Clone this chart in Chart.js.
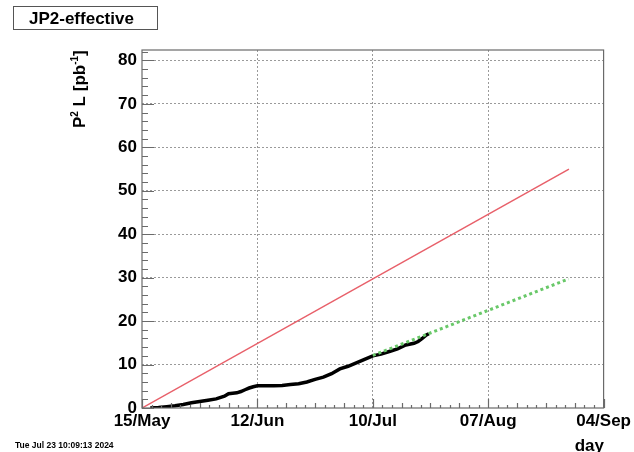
<!DOCTYPE html>
<html><head><meta charset="utf-8">
<script src="https://cdn.jsdelivr.net/npm/chart.js@4/dist/chart.umd.min.js"></script>
<style>html,body{margin:0;padding:0;background:#fff}#wrap{width:634px;height:452px;position:relative}</style>
</head><body><div id="wrap"><canvas id="c" width="634" height="452"></canvas></div>
<script>
// ---- data (x = days since 15 May) ----
const xTickLabels = ['15/May','12/Jun','10/Jul','07/Aug','04/Sep'];
const xTickDays = [0, 28, 56, 84, 112];
const yTickValues = [0, 10, 20, 30, 40, 50, 60, 70, 80];
const measDays = [2,4,6,8,10,12,14,16,18,20,21,22,23,24,25,26,27,28,30,32,34,36,38,40,42,44,46,48,50,52,54,56,58,60,62,64,66,67,68,69,69.6];
const measValues = [0,0.1,0.3,0.5,0.8,1.2,1.5,1.8,2.1,2.7,3.3,3.4,3.5,3.8,4.2,4.6,4.9,5.1,5.1,5.1,5.2,5.4,5.6,6.0,6.6,7.1,7.9,9.0,9.6,10.4,11.2,12.0,12.4,13.0,13.6,14.5,14.9,15.3,16.0,16.8,17.1];
const targetDays = [0, 103.6];
const targetValues = [0, 55];
const projDays = [56, 103.5];
const projValues = [12.1, 29.7];
const titleText = 'JP2-effective';
const xTitle = 'day';
const stampText = 'Tue Jul 23 10:09:13 2024';

const FONT = "'Liberation Sans', Arial, Helvetica, sans-serif";
const pts = (xs, ys) => xs.map((x, i) => ({x, y: ys[i]}));

const decor = {
  id: 'decor',
  afterDraw(chart) {
    const ctx = chart.ctx, a = chart.chartArea;
    const xs = chart.scales.x, ys = chart.scales.y;
    ctx.save();
    // frame
    ctx.strokeStyle = '#6a6a6a'; ctx.lineWidth = 1.2; ctx.setLineDash([]);
    ctx.strokeRect(a.left, a.top, a.right - a.left, a.bottom - a.top);
    // y ticks (inside)
    ctx.beginPath();
    for (let v = 0; v <= 82; v += 2) {
      const p = Math.round(ys.getPixelForValue(v)) + 0.5;
      const len = (v % 10 === 0) ? 12 : 6;
      ctx.moveTo(a.left, p); ctx.lineTo(a.left + len, p);
    }
    // x ticks (inside)
    for (let k = 0; k <= 48; k++) {
      const v = k * 28 / 12;
      const p = Math.round(xs.getPixelForValue(v)) + 0.5;
      const len = (k % 12 === 0) ? 9 : (k % 3 === 0 ? 5 : 3);
      ctx.moveTo(p, a.bottom); ctx.lineTo(p, a.bottom - len);
    }
    ctx.stroke();
    // title box
    ctx.fillStyle = '#fff';
    ctx.strokeStyle = '#555'; ctx.lineWidth = 1;
    ctx.strokeRect(13.5, 6.5, 144, 23);
    ctx.fillStyle = '#000';
    ctx.font = 'bold 17px ' + FONT;
    ctx.textBaseline = 'alphabetic'; ctx.textAlign = 'left';
    ctx.fillText(titleText, 29, 24);
    // x title
    ctx.textAlign = 'right';
    ctx.fillText(xTitle, 604, 451);
    // timestamp
    ctx.textAlign = 'left';
    ctx.font = 'bold 8.5px ' + FONT;
    ctx.fillText(stampText, 15, 448);
    // y title with superscripts
    ctx.translate(85, 128); ctx.rotate(-Math.PI / 2);
    let cx = 0;
    const seg = (t, size, dy) => {
      ctx.font = 'bold ' + size + 'px ' + FONT;
      ctx.fillText(t, cx, dy);
      cx += ctx.measureText(t).width;
    };
    seg('P', 17, 0); seg('2', 10, -7); seg(' L [pb', 17, 0); seg('-1', 10, -7); seg(']', 17, 0);
    ctx.restore();
  }
};

new Chart(document.getElementById('c'), {
  type: 'line',
  data: {
    datasets: [
      {data: pts(projDays, projValues), borderColor: 'rgb(105,200,105)', borderWidth: 3, borderDash: [3, 3], pointRadius: 0, order: 0},
      {data: pts(measDays, measValues), borderColor: '#000', borderWidth: 3.5, pointRadius: 0, order: 1},
      {data: pts(targetDays, targetValues), borderColor: 'rgb(232,96,106)', borderWidth: 1.5, pointRadius: 0, order: 2}
    ]
  },
  options: {
    responsive: false, animation: false, devicePixelRatio: 1,
    layout: {padding: {top: 50, right: 29, bottom: 14, left: 0}},
    plugins: {legend: {display: false}, tooltip: {enabled: false}},
    elements: {line: {tension: 0}},
    scales: {
      x: {
        type: 'linear', min: 0, max: 112,
        afterFit: s => { s.height = 30; },
        afterBuildTicks: s => { s.ticks = xTickDays.map(v => ({value: v})); },
        ticks: {
          autoSkip: false, maxRotation: 0, padding: 3, color: '#000',
          font: {family: FONT, size: 17, weight: 'bold'},
          callback: (v) => { const i = xTickDays.indexOf(v); return i >= 0 ? xTickLabels[i] : ''; }
        },
        grid: {drawTicks: false, lineWidth: 1,
          color: c => (c.tick && c.tick.value > 0 && c.tick.value < 112) ? '#9a9a9a' : 'rgba(0,0,0,0)'},
        border: {display: false, dash: [2, 2]}
      },
      y: {
        type: 'linear', min: 0, max: 82.4,
        afterFit: s => { s.width = 142; },
        afterBuildTicks: s => { s.ticks = yTickValues.map(v => ({value: v})); },
        ticks: {
          padding: 5, color: '#000',
          font: {family: FONT, size: 17, weight: 'bold'},
          callback: v => String(v)
        },
        grid: {drawTicks: false, lineWidth: 1,
          color: c => (c.tick && c.tick.value > 0) ? '#9a9a9a' : 'rgba(0,0,0,0)'},
        border: {display: false, dash: [2, 2]}
      }
    }
  },
  plugins: [decor]
});
</script></body></html>
